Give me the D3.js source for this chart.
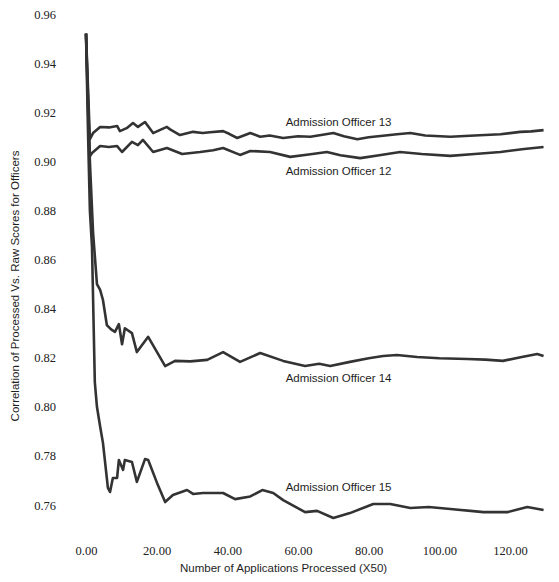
<!DOCTYPE html>
<html>
<head>
<meta charset="utf-8">
<script src="https://cdn.jsdelivr.net/npm/d3@7"></script>
<style>
  body { margin: 0; background: #fff; }
  .lbl { font-family: "Liberation Sans", Arial, sans-serif; font-size: 11.5px; fill: #1e1e1e; }
</style>
</head>
<body>
<div id="chart"></div>
<script>
// Values: [applications processed (x50), correlation]
const officer13 = [[0,0.952],[1.1,0.909],[2.0,0.9115],[4.0,0.914],[6.5,0.9138],[8.8,0.9144],[9.6,0.9123],[11.5,0.9135],[13.3,0.9156],[14.7,0.914],[16.7,0.916],[19.0,0.9115],[21,0.9128],[22.9,0.914],[23.8,0.913],[26.6,0.9107],[30.3,0.912],[33,0.9115],[35.1,0.9118],[38.8,0.9123],[40.5,0.9112],[42.8,0.9095],[46.5,0.9115],[49.3,0.910],[52,0.9105],[55.8,0.9095],[60,0.9102],[63.5,0.910],[67,0.9108],[70.0,0.9115],[73,0.9102],[76.8,0.909],[80,0.9098],[84.7,0.9105],[88,0.911],[91.8,0.9115],[96,0.9105],[103.1,0.910],[110,0.9105],[117.3,0.911],[122.9,0.912],[126,0.9122],[129.5,0.9127]];
const officer12 = [[0,0.952],[1.1,0.902],[1.7,0.9034],[4.0,0.9062],[6.5,0.9058],[8.8,0.9062],[10.2,0.9038],[13.0,0.9079],[14.7,0.9066],[16.1,0.9087],[19.0,0.9038],[22.9,0.9054],[27.2,0.903],[32.3,0.9038],[36,0.9045],[38.8,0.9054],[43.6,0.9026],[46.5,0.9042],[52.1,0.9038],[57.8,0.9018],[63,0.9028],[68.2,0.9038],[72,0.9025],[77.6,0.9013],[83,0.9025],[88.9,0.9038],[95,0.903],[103.1,0.9022],[110,0.903],[117.3,0.9038],[124,0.905],[129.5,0.9058]];
const officer14 = [[0,0.952],[0.6,0.92],[1.1,0.90],[2.0,0.871],[3.1,0.850],[4.0,0.8476],[4.8,0.8435],[5.9,0.8333],[7.1,0.8315],[8.2,0.8305],[9.3,0.8337],[10.2,0.8255],[11.0,0.832],[13.0,0.830],[14.4,0.8223],[17.6,0.8285],[22.4,0.8166],[25.2,0.8187],[29.5,0.8185],[34.3,0.8191],[38.8,0.8223],[43.6,0.8183],[49.3,0.8219],[55.8,0.8187],[62.0,0.8166],[66,0.8175],[69.1,0.8166],[74.7,0.8183],[80,0.8198],[84.1,0.8207],[88.0,0.8211],[93.7,0.8203],[100,0.8198],[107.9,0.8195],[113,0.8192],[118.0,0.8187],[123,0.8202],[127.7,0.8215],[129.5,0.8207]];
const officer15 = [[0,0.952],[0.6,0.91],[1.1,0.88],[1.7,0.865],[2.5,0.81],[3.1,0.80],[4.0,0.792],[4.8,0.7853],[6.2,0.767],[6.8,0.7653],[7.6,0.771],[8.8,0.771],[9.3,0.7783],[10.5,0.7743],[11.0,0.7783],[13.0,0.7775],[14.4,0.7694],[16.7,0.7787],[17.6,0.7783],[20.1,0.769],[22.4,0.7612],[24.6,0.7641],[28.6,0.7661],[30.3,0.7645],[33.1,0.7649],[38.8,0.7649],[42.2,0.7624],[46.5,0.7635],[49.9,0.7661],[53.0,0.7649],[55.8,0.762],[62.0,0.7571],[65.4,0.7576],[70.0,0.7547],[74.7,0.7567],[81.3,0.7604],[86.1,0.7604],[91.8,0.7588],[97,0.7592],[103.1,0.7584],[112.5,0.7571],[119.3,0.7571],[124.9,0.7592],[129.5,0.758]];

const yTicks = [0.76, 0.78, 0.80, 0.82, 0.84, 0.86, 0.88, 0.90, 0.92, 0.94, 0.96];
const xTicks = [0, 20, 40, 60, 80, 100, 120];

const series = [
  { name: "Admission Officer 13", values: officer13, labelAt: [56.5, 0.9143] },
  { name: "Admission Officer 12", values: officer12, labelAt: [56.5, 0.8945] },
  { name: "Admission Officer 14", values: officer14, labelAt: [56.5, 0.8099] },
  { name: "Admission Officer 15", values: officer15, labelAt: [56.5, 0.7655] }
];

const W = 559, H = 582;

const svg = d3.select("#chart")
  .append("svg")
  .attr("width", W)
  .attr("height", H);

// Scales
const x = d3.scaleLinear().domain([0, 120]).range([86, 510]);
const y = d3.scaleLinear().domain([0.76, 0.96]).range([505, 14]);

// tick label styling, serif like the scanned figure
const styleTicks = g => {
  g.select(".domain").remove();
  g.attr("font-family", null).attr("font-size", null);
  g.selectAll(".tick text")
    .style("font-family", "'Liberation Serif', 'DejaVu Serif', serif")
    .style("font-size", "12.5px")
    .style("fill", "#222");
};

// Y axis (labels only)
svg.append("g")
  .attr("transform", "translate(58,0)")
  .call(d3.axisLeft(y).tickValues(yTicks).tickSize(0).tickPadding(2).tickFormat(d3.format(".2f")))
  .call(styleTicks);

// X axis (labels only)
svg.append("g")
  .attr("transform", "translate(0,543)")
  .call(d3.axisBottom(x).tickValues(xTicks).tickSize(0).tickPadding(3).tickFormat(d3.format(".2f")))
  .call(styleTicks);

// Axis titles
svg.append("text")
  .attr("class", "lbl")
  .attr("x", 180)
  .attr("y", 572)
  .text("Number of Applications Processed (X50)");

svg.append("text")
  .attr("class", "lbl")
  .attr("transform", "translate(19,286) rotate(-90)")
  .attr("text-anchor", "middle")
  .text("Correlation of Processed Vs. Raw Scores for Officers");

// Lines
const line = d3.line()
  .x(d => x(d[0]))
  .y(d => y(d[1]));

svg.selectAll("path.officer")
  .data(series)
  .enter()
  .append("path")
  .attr("class", "officer")
  .attr("d", d => line(d.values))
  .attr("fill", "none")
  .attr("stroke", "#333")
  .attr("stroke-width", 2.6)
  .attr("stroke-linejoin", "round");

// Line labels
svg.selectAll("text.name")
  .data(series)
  .enter()
  .append("text")
  .attr("class", "lbl name")
  .attr("x", d => x(d.labelAt[0]))
  .attr("y", d => y(d.labelAt[1]))
  .text(d => d.name);
</script>
</body>
</html>
